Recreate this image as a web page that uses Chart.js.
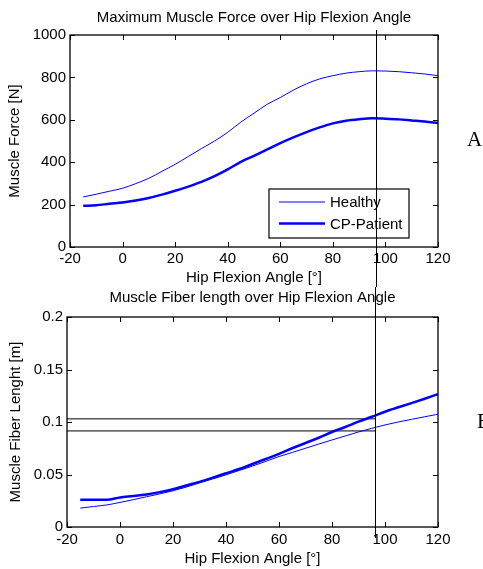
<!DOCTYPE html>
<html>
<head>
<meta charset="utf-8">
<script src="https://cdn.jsdelivr.net/npm/chart.js@4.4.1/dist/chart.umd.min.js"></script>
<style>
  body { margin: 0; background: #fff; }
  #wrap { position: relative; width: 483px; height: 569px; overflow: hidden; }
  .plot { position: absolute; left: 0; }
  .tag { position: absolute; font-family: "Liberation Serif", "Times New Roman", serif; font-size: 21px; line-height: 1; color: #000; }
</style>
</head>
<body>
<div id="wrap">
  <canvas id="forceChart" class="plot" width="483" height="287" style="top:0"></canvas>
  <canvas id="fiberChart" class="plot" width="483" height="281" style="top:287px"></canvas>
  <div class="tag" style="left:467px; top:129px">A</div>
  <div class="tag" style="left:477px; top:411px">B</div>
</div>
<script>
"use strict";

// Hip flexion angles (degrees) where the curves were read
const angles = [-15, -10, -5, 0, 5, 10, 15, 20, 25, 30, 35, 40, 45, 50, 55, 60, 65, 70, 75, 80, 85, 90, 95, 100, 105, 110, 115, 120];

// Maximum muscle force [N]
const forceHealthy = [236, 249, 263, 277, 299, 324, 357, 390, 427, 464, 500, 541, 589, 631, 673, 705, 740, 770, 793, 808, 820, 827, 831, 830, 827, 822, 816, 808];
const forceCP = [194, 197, 204, 210, 219, 231, 247, 265, 285, 307, 334, 366, 402, 430, 460, 490, 517, 542, 564, 583, 596, 603, 607, 605, 602, 597, 592, 585];

// Muscle fiber length [m]
const fiberHealthy = [0.018, 0.0195, 0.021, 0.0234, 0.026, 0.0288, 0.0315, 0.0345, 0.038, 0.042, 0.0458, 0.0497, 0.0538, 0.058, 0.0625, 0.0671, 0.071, 0.075, 0.079, 0.0829, 0.0867, 0.0905, 0.094, 0.0972, 0.1, 0.1025, 0.105, 0.1074];
const fiberCP = [0.026, 0.026, 0.026, 0.0282, 0.0295, 0.031, 0.0332, 0.036, 0.0395, 0.043, 0.047, 0.0512, 0.0552, 0.06, 0.0648, 0.0696, 0.075, 0.08, 0.085, 0.0905, 0.0952, 0.1003, 0.105, 0.1098, 0.114, 0.118, 0.1222, 0.1266];

const markAngle = 96.3;
const fiberMarks = [0.103, 0.0915];

// Tick values
const angleTicks = [-20, 0, 20, 40, 60, 80, 100, 120];
const forceTicks = [0, 200, 400, 600, 800, 1000];
const fiberTicks = [0, 0.05, 0.1, 0.15, 0.2];

const blue = "#0000ff";
Chart.defaults.font.family = '"Liberation Sans", Arial, sans-serif';
Chart.defaults.font.size = 15;
Chart.defaults.color = "#000";

function points(ys) {
    return angles.map((a, i) => ({ x: a, y: ys[i] }));
}

// Box frame, inward ticks, legend and the vertical marker line
const framePlugin = {
    id: "frame",
    afterDraw(chart, args, opts) {
        const { ctx, chartArea: a, scales: { x, y } } = chart;
        ctx.save();
        ctx.strokeStyle = "#000";
        ctx.lineWidth = 1.3;
        ctx.strokeRect(a.left, a.top, a.right - a.left, a.bottom - a.top);

        ctx.lineWidth = 1;
        ctx.beginPath();
        x.ticks.forEach(t => {
            const px = Math.round(x.getPixelForValue(t.value)) + 0.5;
            ctx.moveTo(px, a.bottom); ctx.lineTo(px, a.bottom - 5);
            ctx.moveTo(px, a.top); ctx.lineTo(px, a.top + 5);
        });
        y.ticks.forEach(t => {
            const py = Math.round(y.getPixelForValue(t.value)) + 0.5;
            ctx.moveTo(a.left, py); ctx.lineTo(a.left + 5, py);
            ctx.moveTo(a.right, py); ctx.lineTo(a.right - 5, py);
        });
        ctx.stroke();

        if (opts.legend) {
            const w = 140, h = 49;
            const bx = a.right - 29 - w, by = a.bottom - 9 - h;
            ctx.fillStyle = "#fff";
            ctx.fillRect(bx, by, w, h);
            ctx.strokeStyle = "#000";
            ctx.lineWidth = 1.2;
            ctx.strokeRect(bx, by, w, h);
            ctx.font = "15px " + Chart.defaults.font.family;
            ctx.textBaseline = "middle";
            ctx.textAlign = "left";
            chart.data.datasets.slice(0, 2).forEach((ds, i) => {
                const ly = by + 13 + i * 21.5;
                ctx.strokeStyle = ds.borderColor;
                ctx.lineWidth = ds.borderWidth;
                ctx.beginPath();
                ctx.moveTo(bx + 10, ly); ctx.lineTo(bx + 56, ly);
                ctx.stroke();
                ctx.fillStyle = "#000";
                ctx.fillText(ds.label, bx + 61, ly + 1);
            });
        }

        const vx = Math.round(x.getPixelForValue(markAngle)) + 0.5;
        ctx.strokeStyle = "#000";
        ctx.lineWidth = 1;
        ctx.beginPath();
        ctx.moveTo(vx, opts.lineTop);
        ctx.lineTo(vx, opts.lineBottom);
        ctx.stroke();
        ctx.restore();
    }
};

function xScale(pad) {
    return {
        type: "linear", min: -20, max: 120,
        afterBuildTicks: s => { s.ticks = angleTicks.map(v => ({ value: v })); },
        afterFit: s => { s.height = pad.height; },
        grid: { display: false, drawTicks: false },
        border: { display: false },
        ticks: { padding: pad.ticks, autoSkip: false, maxRotation: 0, callback: v => String(v) },
        title: { display: true, text: "Hip Flexion Angle [°]", padding: 0 }
    };
}

function yScale(max, list, title, width, titlePad) {
    return {
        type: "linear", min: 0, max: max,
        afterBuildTicks: s => { s.ticks = list.map(v => ({ value: v })); },
        afterFit: s => { s.width = width; },
        grid: { display: false, drawTicks: false },
        border: { display: false },
        ticks: { padding: 4, callback: v => String(parseFloat(Number(v).toFixed(3))) },
        title: { display: true, text: title, padding: { top: titlePad, bottom: 0 } }
    };
}

const lineStyle = { pointRadius: 0, cubicInterpolationMode: "monotone", fill: false };

// Top chart: muscle force
new Chart(document.getElementById("forceChart"), {
    type: "line",
    data: {
        datasets: [
            { label: "Healthy", data: points(forceHealthy), borderColor: blue, borderWidth: 1, ...lineStyle },
            { label: "CP-Patient", data: points(forceCP), borderColor: blue, borderWidth: 2.5, ...lineStyle }
        ]
    },
    options: {
        responsive: false,
        animation: false,
        devicePixelRatio: 1,
        layout: { padding: { left: 0, right: 45, top: 0, bottom: 0 } },
        scales: {
            x: xScale({ height: 40, ticks: 3 }),
            y: yScale(1000, forceTicks, "Muscle Force [N]", 70, 6)
        },
        plugins: {
            legend: { display: false },
            tooltip: { enabled: false },
            title: { display: true, fullSize: false, text: "Maximum Muscle Force over Hip Flexion Angle", font: { size: 15, weight: "normal" }, padding: { top: 9, bottom: 8 } },
            frame: { legend: true, lineTop: 30, lineBottom: 287 }
        }
    },
    plugins: [framePlugin]
});

// Bottom chart: muscle fiber length
new Chart(document.getElementById("fiberChart"), {
    type: "line",
    data: {
        datasets: [
            { label: "Healthy", data: points(fiberHealthy), borderColor: blue, borderWidth: 1, ...lineStyle },
            { label: "CP-Patient", data: points(fiberCP), borderColor: blue, borderWidth: 2.5, ...lineStyle },
            ...fiberMarks.map(m => ({
                label: "mark", data: [{ x: -20, y: m }, { x: markAngle, y: m }],
                borderColor: "#000", borderWidth: 1, pointRadius: 0, tension: 0
            }))
        ]
    },
    options: {
        responsive: false,
        animation: false,
        devicePixelRatio: 1,
        layout: { padding: { left: 0, right: 45, top: 0, bottom: 0 } },
        scales: {
            x: xScale({ height: 41, ticks: 4 }),
            y: yScale(0.2, fiberTicks, "Muscle Fiber Lenght [m]", 67, 7)
        },
        plugins: {
            legend: { display: false },
            tooltip: { enabled: false },
            title: { display: true, fullSize: false, text: "Muscle Fiber length over Hip Flexion Angle", font: { size: 15, weight: "normal" }, padding: { top: 2, bottom: 10 } },
            frame: { legend: false, lineTop: 0, lineBottom: 251 }
        }
    },
    plugins: [framePlugin]
});
</script>
</body>
</html>
